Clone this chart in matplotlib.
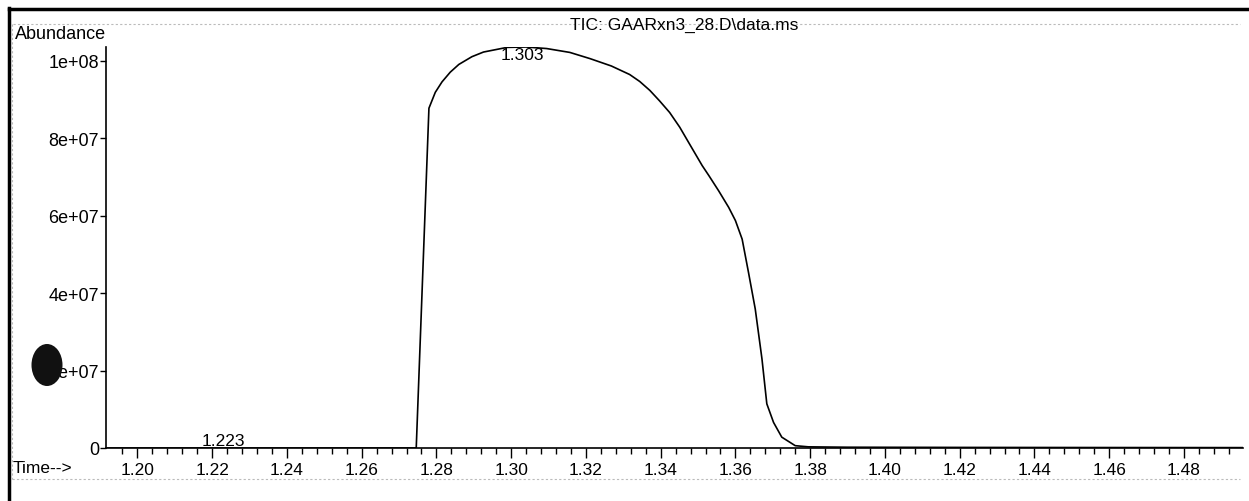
import numpy as np
import matplotlib
matplotlib.use('Agg')
import matplotlib.pyplot as plt
from matplotlib.patches import Ellipse
from matplotlib.lines import Line2D

plt.rcParams['font.family'] = ['Liberation Sans', 'DejaVu Sans']

# TIC trace (time in min, abundance)
times = [1.1920, 1.2746, 1.2780, 1.2797, 1.2815, 1.2837, 1.2860, 1.2895, 1.2926,
         1.2989, 1.3040, 1.3095, 1.3157, 1.3211, 1.3268, 1.3317, 1.3344, 1.3371,
         1.3397, 1.3424, 1.3451, 1.3477, 1.3511, 1.3529, 1.3555, 1.3582, 1.3600,
         1.3618, 1.3635, 1.3653, 1.3671, 1.3684, 1.3702, 1.3724, 1.3760, 1.3795,
         1.3900, 1.4200, 1.4600, 1.4956]
abund = [0, 0, 8.77e7, 9.18e7, 9.45e7, 9.70e7, 9.90e7, 1.010e8, 1.022e8,
         1.034e8, 1.035e8, 1.031e8, 1.021e8, 1.005e8, 9.86e7, 9.64e7, 9.46e7, 9.23e7,
         8.96e7, 8.66e7, 8.28e7, 7.85e7, 7.29e7, 7.03e7, 6.64e7, 6.21e7, 5.87e7,
         5.39e7, 4.53e7, 3.59e7, 2.30e7, 1.14e7, 6.6e6, 2.8e6, 6e5, 3e5,
         2e5, 1.5e5, 1.2e5, 1e5]

peak_labels = ['1.223', '1.303']
peak_times = [1.223, 1.303]
peak_heights = [0, 1.035e8]

yticks = [0, 2e7, 4e7, 6e7, 8e7, 1e8]
ytick_labels = ['0', '2e+07', '4e+07', '6e+07', '8e+07', '1e+08']
xticks = np.round(np.arange(1.20, 1.481, 0.02), 2)
xminor = np.round(np.arange(1.196, 1.495, 0.004), 3)

W, H = 1249, 502
fig = plt.figure(figsize=(W / 100, H / 100), dpi=100)
fig.patch.set_facecolor('white')

ax = fig.add_axes([106 / W, 1 - 449 / H, (1243 - 106) / W, (449 - 48) / H])
ax.plot(times, abund, color='black', lw=1.2)
ax.set_xlim(1.1916, 1.4958)
ax.set_ylim(0, 1.035e8)

for s in ['top', 'right']:
    ax.spines[s].set_visible(False)
for s in ['left', 'bottom']:
    ax.spines[s].set_linewidth(1.2)

ax.set_yticks(yticks)
ax.set_yticklabels(ytick_labels)
ax.set_xticks(xticks)
ax.set_xticklabels([f'{t:.2f}' for t in xticks])
ax.set_xticks(xminor, minor=True)
ax.tick_params(axis='y', direction='out', length=4, width=1, pad=1, labelsize=13)
ax.tick_params(axis='x', which='major', direction='out', length=7, width=1, pad=3, labelsize=12.5)
ax.tick_params(axis='x', which='minor', direction='out', length=4, width=1)

# peak labels
ax.text(peak_times[0], peak_heights[0], peak_labels[0], ha='center', va='bottom',
        fontsize=12.5)
ax.text(peak_times[1], peak_heights[1], peak_labels[1], ha='center', va='top',
        fontsize=12.5)

fig.text(15 / W, 1 - 35 / H, 'Abundance', ha='left', va='center', fontsize=13)
fig.text(13 / W, 1 - 469 / H, 'Time-->', ha='left', va='center', fontsize=12.5)
fig.text(684 / W, 1 - 25 / H, 'TIC: GAARxn3_28.D\\data.ms', ha='center', va='center',
         fontsize=12.5)

# page frame from the scan
fig.add_artist(Line2D([8.5 / W, 8.5 / W], [0, 1 - 9 / H], color='black', lw=2.5))
fig.add_artist(Line2D([8.5 / W, 1], [1 - 9.5 / H, 1 - 9.5 / H], color='black', lw=2.5))
fig.add_artist(Line2D([13 / W, 1240 / W], [1 - 25 / H, 1 - 25 / H], color='#bbbbbb',
                      lw=0.8, ls=(0, (2, 2))))
fig.add_artist(Line2D([12 / W, 12 / W], [1 - 25 / H, 1 - 480 / H], color='#bbbbbb',
                      lw=0.8, ls=(0, (2, 2))))
fig.add_artist(Line2D([12 / W, 1240 / W], [1 - 480 / H, 1 - 480 / H], color='#bbbbbb',
                      lw=0.8, ls=(0, (2, 2))))

# hole punch blot
fig.add_artist(Ellipse((47 / W, 1 - 366 / H), 31 / W, 42 / H, angle=0,
                       transform=fig.transFigure, facecolor='#111111', edgecolor='none'))

fig.savefig('out.png', dpi=100, facecolor='white')
